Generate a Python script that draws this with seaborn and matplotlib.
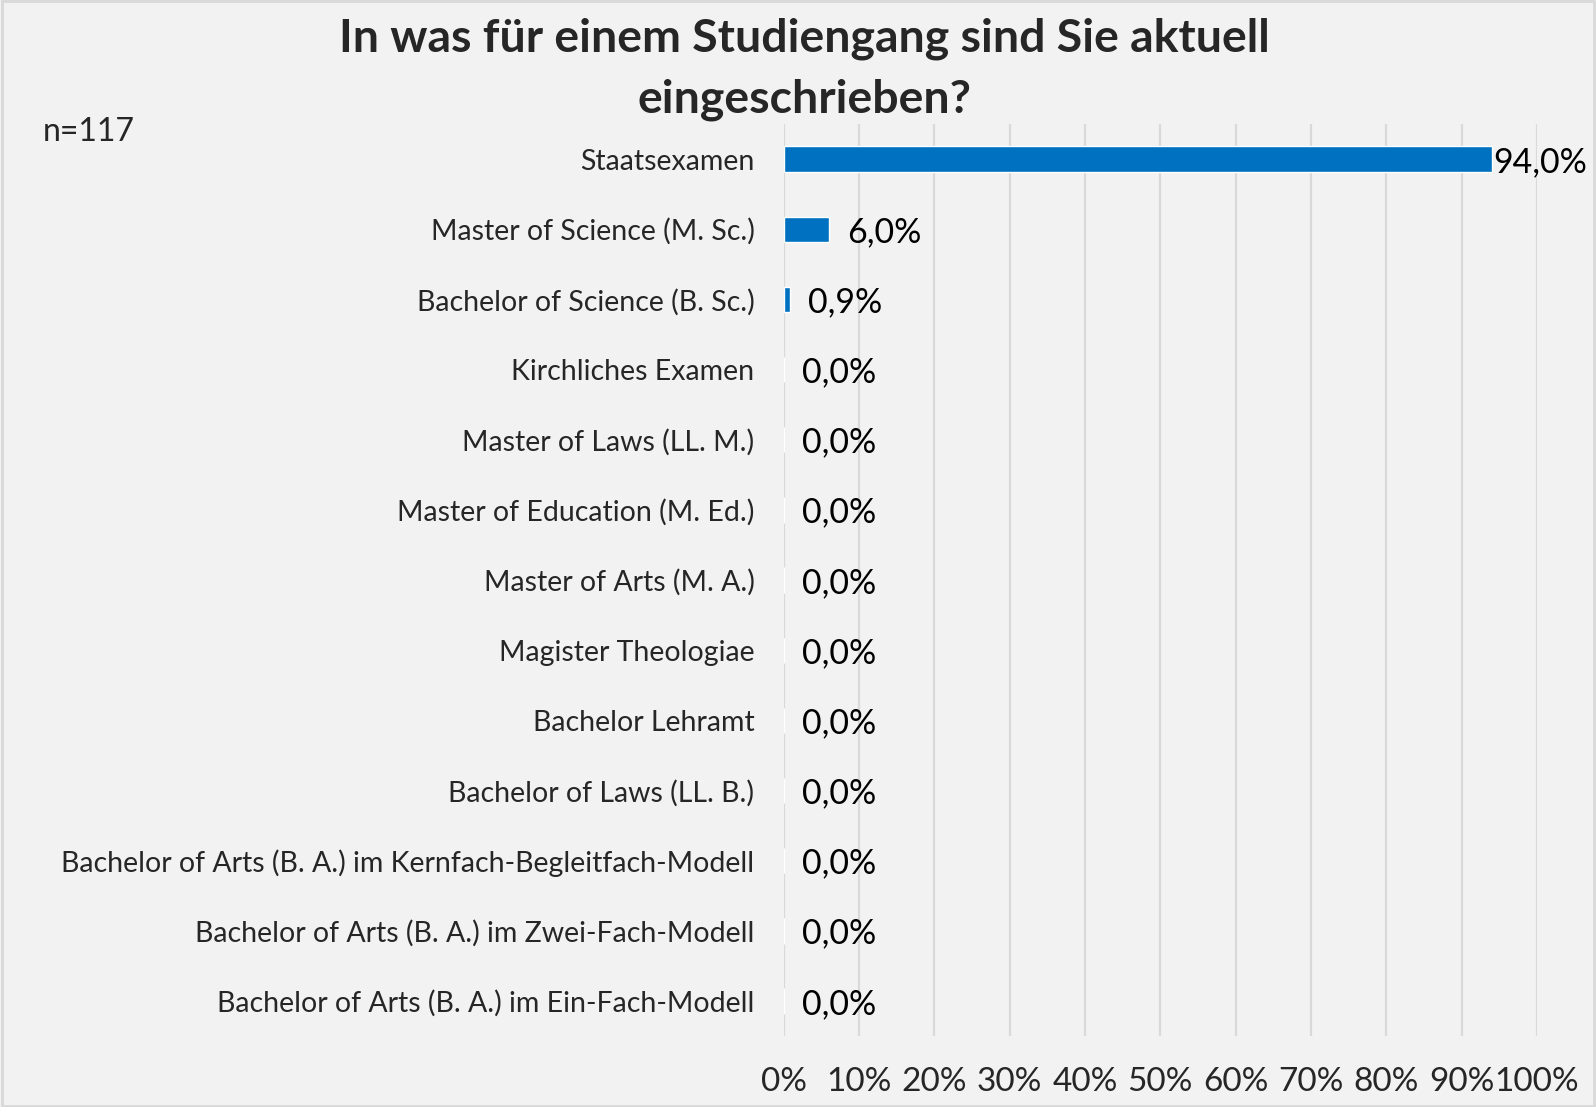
import matplotlib
matplotlib.use("Agg")
import matplotlib.pyplot as plt
import seaborn as sns
import pandas as pd
from matplotlib.patches import Rectangle

# Daten aus dem Diagramm
studiengaenge = [
    "Staatsexamen",
    "Master of Science (M. Sc.)",
    "Bachelor of Science (B. Sc.)",
    "Kirchliches Examen",
    "Master of Laws (LL. M.)",
    "Master of Education (M. Ed.)",
    "Master of Arts (M. A.)",
    "Magister Theologiae",
    "Bachelor Lehramt",
    "Bachelor of Laws (LL. B.)",
    "Bachelor of Arts (B. A.) im Kernfach-Begleitfach-Modell",
    "Bachelor of Arts (B. A.) im Zwei-Fach-Modell",
    "Bachelor of Arts (B. A.) im Ein-Fach-Modell",
]
anteile = [94.0, 6.0, 0.9, 0.0, 0.0, 0.0, 0.0, 0.0, 0.0, 0.0, 0.0, 0.0, 0.0]
x_ticks = [0, 10, 20, 30, 40, 50, 60, 70, 80, 90, 100]
x_tick_labels = [f"{t}%" for t in x_ticks]
stichprobe = "n=117"
titel_zeilen = ["In was für einem Studiengang sind Sie aktuell", "eingeschrieben?"]

df = pd.DataFrame({"STUDIENGANG": studiengaenge, "ANTEIL": anteile})

sns.set_style("white")
plt.rcParams["font.family"] = ["Lato", "DejaVu Sans"]

BG = "#f2f2f2"
fig = plt.figure(figsize=(15.96, 11.07), dpi=100, facecolor=BG)
ax = fig.add_axes([0.491, 0.064, 0.472, 0.824])
ax.set_facecolor(BG)

sns.barplot(data=df, x="ANTEIL", y="STUDIENGANG", color="#0070C0",
            width=0.36, orient="h", ax=ax, saturation=1)

ax.set_xlim(0, 100)
ax.set_ylim(len(studiengaenge) - 0.5, -0.5)
ax.set_xticks(x_ticks)
ax.set_xticklabels(x_tick_labels, fontsize=24)
ax.tick_params(axis="x", length=0, pad=22)
ax.tick_params(axis="y", length=0, pad=21, labelsize=20.5)
ax.set_xlabel("")
ax.set_ylabel("")
ax.grid(axis="x", color="#d9d9d9", linewidth=1.6)
ax.set_axisbelow(True)
for s in ax.spines.values():
    s.set_visible(False)

# Wertbeschriftungen
for i, v in enumerate(anteile):
    txt = f"{v:.1f}%".replace(".", ",")
    off = 1 if v > 90 else 13
    ax.annotate(txt, xy=(v, i), xytext=(off, -2), textcoords="offset points",
                va="center", ha="left", fontsize=24.5, color="black")

fig.text(0.504, 0.965, titel_zeilen[0], ha="center", va="center", fontsize=33.4,
         fontweight="bold")
fig.text(0.504, 0.910, titel_zeilen[1], ha="center", va="center", fontsize=33.4,
         fontweight="bold")
fig.text(0.027, 0.881, stichprobe, ha="left", va="center", fontsize=23)

fig.patches.append(Rectangle((0.001, 0.001), 0.998, 0.998, transform=fig.transFigure,
                             fill=False, edgecolor="#d9d9d9", linewidth=2))

fig.savefig("out.png", dpi=100, facecolor=BG)
